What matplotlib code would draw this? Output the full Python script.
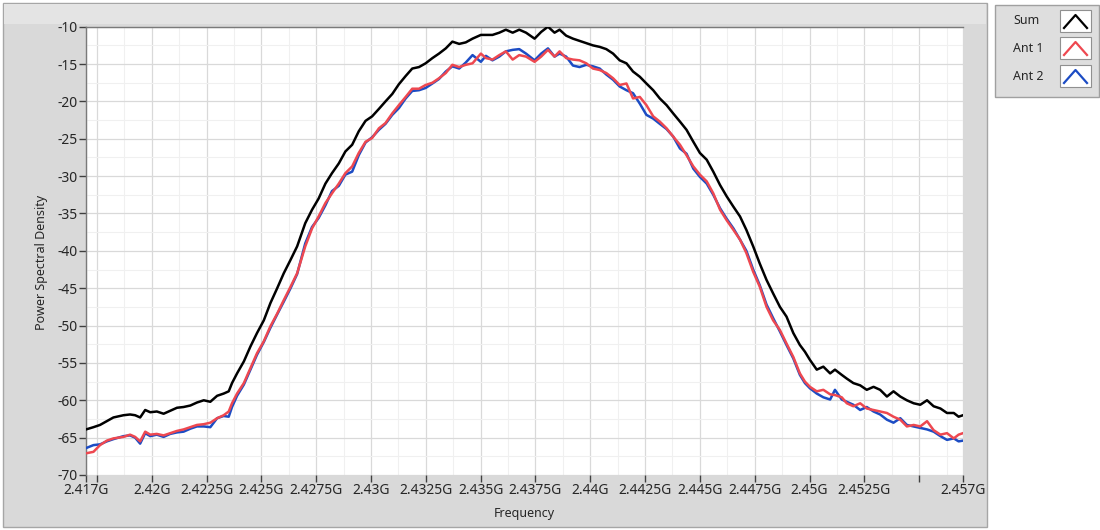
import matplotlib
matplotlib.use('Agg')
import matplotlib.pyplot as plt
from matplotlib.patches import Rectangle
from matplotlib.lines import Line2D
from matplotlib.ticker import MultipleLocator
import numpy as np

plt.rcParams['font.family'] = ['Noto Sans', 'DejaVu Sans']

# frequency in MHz
freq_mhz = [
    2417.00, 2417.34, 2417.64, 2417.95, 2418.25, 2418.71, 2419.01, 2419.24, 2419.47, 2419.70,
    2419.93, 2420.23, 2420.54, 2420.84, 2421.15, 2421.45, 2421.76, 2422.06, 2422.37, 2422.67,
    2422.98, 2423.28, 2423.51, 2423.66, 2423.89, 2424.20, 2424.50, 2424.80, 2425.11, 2425.41,
    2425.72, 2426.02, 2426.33, 2426.63,
    2427.00, 2427.31, 2427.61, 2427.92, 2428.22, 2428.53, 2428.83, 2429.14, 2429.44, 2429.75,
    2430.05, 2430.36, 2430.66, 2430.97, 2431.27, 2431.58, 2431.88, 2432.19, 2432.49, 2432.80,
    2433.10, 2433.41, 2433.71, 2434.02, 2434.32, 2434.63, 2435.01, 2435.24, 2435.54, 2435.85,
    2436.15, 2436.46, 2436.76,
    2437.07, 2437.46, 2437.76, 2438.07, 2438.37, 2438.60, 2438.90, 2439.21, 2439.51, 2439.82,
    2440.12, 2440.43, 2440.73, 2441.04, 2441.34, 2441.65, 2441.95, 2442.26, 2442.56, 2442.87,
    2443.17, 2443.48, 2443.78, 2444.09, 2444.39, 2444.70, 2445.00, 2445.31, 2445.61, 2445.92,
    2446.22, 2446.53, 2446.83,
    2447.12, 2447.43, 2447.73, 2448.04, 2448.34, 2448.65, 2448.95, 2449.26, 2449.56, 2449.79,
    2450.02, 2450.33, 2450.63, 2450.94, 2451.16, 2451.47, 2451.70, 2452.00, 2452.31, 2452.61,
    2452.92, 2453.22, 2453.53, 2453.83, 2454.14, 2454.44, 2454.75, 2455.05, 2455.36, 2455.66,
    2455.97, 2456.27, 2456.58, 2456.80, 2457.00,
]

psd_sum = [
    -63.9, -63.6, -63.3, -62.8, -62.3, -62.0, -61.9, -62.0, -62.3, -61.3, -61.6, -61.5, -61.8,
    -61.4, -61.0, -60.9, -60.7, -60.3, -60.0, -60.2, -59.4, -59.1, -58.8, -57.7, -56.4, -54.8,
    -52.8, -51.0, -49.3, -47.0, -45.0, -43.0, -41.2, -39.4,
    -36.3, -34.5, -33.0, -31.0, -29.6, -28.3, -26.7, -25.8, -24.0, -22.6, -22.0, -21.0, -20.0,
    -19.0, -17.7, -16.6, -15.6, -15.4, -14.9, -14.2, -13.6, -12.9, -12.0, -12.3, -12.1, -11.6,
    -11.1, -11.1, -11.1, -10.8, -10.4, -10.8, -10.4,
    -10.8, -11.6, -10.7, -10.0, -10.8, -10.4, -11.2, -11.6, -11.9, -12.2, -12.5, -12.7, -13.0,
    -13.6, -14.5, -14.9, -16.0, -16.7, -17.6, -18.5, -19.6, -20.5, -21.6, -22.7, -23.8, -25.4,
    -26.9, -27.8, -29.4, -31.2, -32.7, -34.1, -35.4,
    -37.2, -39.4, -41.7, -43.9, -45.7, -47.5, -48.8, -51.0, -52.6, -53.5, -54.6, -55.9, -55.5,
    -56.4, -55.9, -56.6, -57.1, -57.7, -58.0, -58.6, -58.2, -58.6, -59.5, -58.8, -59.5, -60.0,
    -60.4, -60.6, -60.0, -60.8, -61.1, -61.7, -61.7, -62.2, -62.0,
]

psd_ant1 = [
    -67.1, -66.9, -66.0, -65.4, -65.1, -64.9, -64.6, -64.9, -65.5, -64.2, -64.6, -64.5, -64.7,
    -64.4, -64.1, -63.9, -63.6, -63.3, -63.2, -63.0, -62.4, -62.0, -61.5, -60.4, -59.1, -57.7,
    -55.7, -53.7, -52.1, -50.1, -48.4, -46.6, -44.8, -43.0,
    -39.4, -37.0, -35.4, -33.6, -32.3, -31.0, -29.6, -28.7, -26.9, -25.4, -24.9, -23.6, -22.9,
    -21.6, -20.5, -19.4, -18.3, -18.3, -17.8, -17.5, -16.9, -16.2, -15.1, -15.4, -15.1, -14.9,
    -13.6, -14.2, -14.4, -13.8, -13.3, -14.4, -13.8,
    -14.0, -14.7, -14.0, -13.1, -14.0, -13.3, -14.2, -14.4, -14.5, -14.9, -15.6, -15.8, -16.2,
    -16.9, -17.8, -17.6, -19.6, -19.4, -20.5, -22.0, -22.7, -23.6, -24.7, -25.8, -27.2, -28.7,
    -29.8, -30.7, -32.3, -34.5, -35.9, -37.2, -38.5,
    -40.3, -42.8, -44.8, -47.5, -49.3, -50.6, -52.4, -54.2, -56.4, -57.5, -58.2, -58.8, -58.6,
    -59.2, -59.3, -59.6, -60.4, -60.8, -60.4, -61.1, -61.3, -61.5, -61.7, -62.2, -62.6, -63.5,
    -63.3, -63.5, -62.8, -64.0, -64.6, -64.4, -65.1, -64.6, -64.4,
]

psd_ant2 = [
    -66.4, -66.0, -65.9, -65.5, -65.2, -64.8, -64.7, -65.0, -65.8, -64.4, -64.8, -64.6, -64.9,
    -64.5, -64.3, -64.2, -63.8, -63.5, -63.5, -63.6, -62.4, -62.1, -62.2, -60.9, -59.4, -57.9,
    -55.9, -53.9, -52.2, -50.3, -48.5, -46.8, -45.0, -43.1,
    -39.0, -36.8, -35.6, -33.9, -32.0, -31.3, -29.8, -29.4, -27.2, -25.5, -24.8, -23.8, -23.0,
    -21.8, -20.9, -19.6, -18.6, -18.5, -18.2, -17.6, -17.0, -16.0, -15.3, -15.6, -14.8, -13.8,
    -14.7, -13.9, -14.5, -14.0, -13.3, -13.1, -13.0,
    -13.6, -14.5, -13.6, -12.9, -14.0, -13.6, -14.0, -15.2, -15.4, -15.1, -15.3, -15.6, -16.4,
    -17.1, -18.0, -18.5, -18.9, -20.3, -21.8, -22.3, -23.0, -23.7, -24.7, -26.3, -27.0, -29.0,
    -30.1, -31.0, -32.5, -34.3, -35.7, -37.0, -38.5,
    -40.0, -42.5, -44.6, -47.2, -49.0, -50.8, -52.6, -54.4, -56.6, -57.7, -58.4, -59.1, -59.6,
    -59.9, -58.6, -59.9, -60.2, -60.6, -61.3, -60.9, -61.5, -61.9, -62.6, -63.0, -62.4, -63.3,
    -63.5, -63.7, -63.9, -64.2, -64.8, -65.3, -65.1, -65.5, -65.4,
]

x_ticks = [2.417, 2.4175, 2.42, 2.4225, 2.425, 2.4275, 2.43, 2.4325, 2.435, 2.4375,
           2.44, 2.4425, 2.445, 2.4475, 2.45, 2.4525, 2.455, 2.457]
x_labels = ['2.417G', '', '2.42G', '2.4225G', '2.425G', '2.4275G', '2.43G', '2.4325G',
            '2.435G', '2.4375G', '2.44G', '2.4425G', '2.445G', '2.4475G', '2.45G',
            '2.4525G', '', '2.457G']
y_ticks = [-10, -15, -20, -25, -30, -35, -40, -45, -50, -55, -60, -65, -70]

series_names = ['Sum', 'Ant 1', 'Ant 2']
series_colors = ['#000000', '#ee4850', '#1c4cc4']

W, H = 1100, 530
fig = plt.figure(figsize=(W / 100, H / 100), dpi=100, facecolor='white')

# grey graph panel (behind the axes)
fig.patches.append(Rectangle((3 / W, 1 - 527 / H), 984 / W, 524 / H, transform=fig.transFigure,
                             facecolor='#d9d9d9', edgecolor='#a6a6a6', linewidth=1.0, zorder=-2))
fig.patches.append(Rectangle((4 / W, 1 - 24 / H), 982 / W, 20 / H, transform=fig.transFigure,
                             facecolor='#e4e4e4', edgecolor='none', zorder=-1))

ax = fig.add_axes([86 / W, 1 - 475 / H, 877 / W, 448.3 / H])
ax.set_zorder(1)
ax.set_facecolor('white')

freq = np.array(freq_mhz) / 1000.0
ax.plot(freq, psd_sum, color=series_colors[0], linewidth=1.8, zorder=3)
ax.plot(freq, psd_ant2, color=series_colors[2], linewidth=1.8, zorder=3)
ax.plot(freq, psd_ant1, color=series_colors[1], linewidth=1.8, zorder=4)

ax.set_xlim(2.417, 2.457)
ax.set_ylim(-70, -10)
ax.set_xticks(x_ticks)
ax.set_xticklabels(x_labels)
ax.set_yticks(y_ticks)
ax.set_yticklabels([str(v) for v in y_ticks])
ax.xaxis.set_minor_locator(MultipleLocator(0.00125))
ax.yaxis.set_minor_locator(MultipleLocator(2.5))

ax.grid(which='major', color='#d9d9d9', linewidth=0.9, zorder=0)
ax.grid(which='minor', color='#f0f0f0', linewidth=0.8, zorder=0)
ax.set_axisbelow(True)

ax.tick_params(which='major', direction='out', length=5, width=1, color='#404040',
               labelsize=10, labelcolor='#262626', pad=1)
ax.tick_params(which='minor', length=0)

for side in ['bottom', 'right']:
    ax.spines[side].set_visible(False)
for side in ['left', 'top']:
    ax.spines[side].set_color('#7a7a7a')
    ax.spines[side].set_linewidth(1.0)

fig.text(524 / W, 1 - 514 / H, 'Frequency', ha='center', va='center', fontsize=9, color='#262626')
fig.text(42 / W, 1 - 262 / H, 'Power Spectral Density', ha='center', va='center', rotation=90,
         fontsize=9, color='#262626')

# legend box on the right
fig.patches.append(Rectangle((995 / W, 1 - 97 / H), 104 / W, 92 / H, transform=fig.transFigure,
                             facecolor='#dedede', edgecolor='#a0a0a0', linewidth=1.0, zorder=1))
row_y = [21, 48, 76]
for name, color, yy in zip(series_names, series_colors, row_y):
    fig.text(1013 / W, 1 - yy / H, name, ha='left', va='center', fontsize=9, color='#262626')
    fig.patches.append(Rectangle((1060 / W, 1 - (yy + 11) / H), 31 / W, 22 / H,
                                 transform=fig.transFigure, facecolor='white',
                                 edgecolor='#909090', linewidth=0.8, zorder=2))
    fig.lines.append(Line2D([1064 / W, 1075.5 / W, 1087 / W],
                            [1 - (yy + 7) / H, 1 - (yy - 6) / H, 1 - (yy + 7) / H],
                            transform=fig.transFigure, color=color, linewidth=1.6, zorder=3))

fig.savefig('out.png', dpi=100, facecolor='white')
